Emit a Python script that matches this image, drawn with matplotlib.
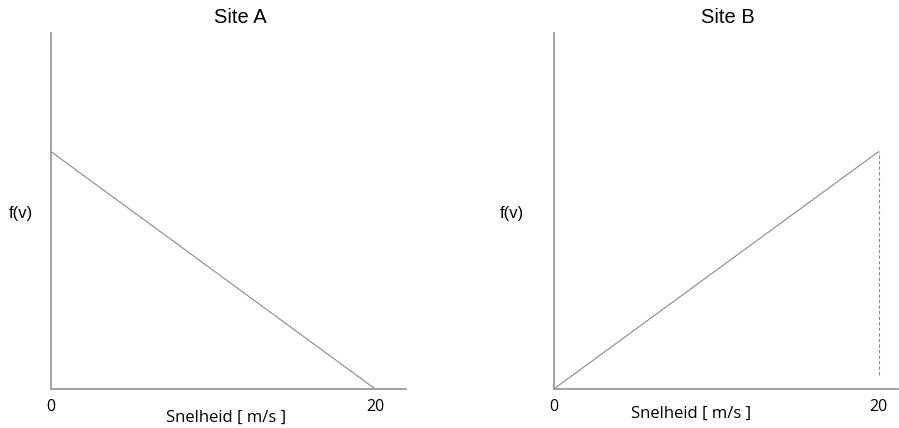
import numpy as np
import matplotlib.pyplot as plt

# speed range [m/s] and triangular pdf values
speed = [0, 20]
f_site_a = [0.1, 0.0]
f_site_b = [0.0, 0.1]
cutoff_speed = 20
cutoff_f = [0.006, 0.1]

titles = ['Site A', 'Site B']
xtick_vals = [0, 20]
xtick_labels = ['0', '20']
ylabel = 'f(v)'
xlabel = 'Snelheid [ m/s ]'

fig = plt.figure(figsize=(8.99, 4.28), dpi=100)
axA = fig.add_axes([0.0567, 0.0911, 0.395, 0.832])
axB = fig.add_axes([0.616, 0.0911, 0.383, 0.832])

spine_col = '#9a9a9a'
line_col = '#8a8a8a'

def style(ax, xmax):
    ax.set_xlim(0, xmax)
    ax.set_ylim(0, 0.15)
    for s in ['top', 'right']:
        ax.spines[s].set_visible(False)
    for s in ['left', 'bottom']:
        ax.spines[s].set_color(spine_col)
        ax.spines[s].set_linewidth(1.3)
    ax.set_yticks([])
    ax.set_xticks(xtick_vals)
    ax.set_xticklabels(xtick_labels, family='Open Sans', fontsize=11.5)
    ax.tick_params(axis='x', length=0, pad=7)

def labels(ax, title_x, ylab_x, xlab_x, xlab_y):
    ax.text(title_x, 1.042, ax.get_label(), transform=ax.transAxes,
            family='Liberation Sans', fontsize=14.5, ha='center', va='center')
    ax.text(ylab_x, 0.494, ylabel, transform=ax.transAxes,
            family='Liberation Sans', fontsize=12, ha='center', va='center')
    ax.text(xlab_x, xlab_y, xlabel, transform=ax.transAxes,
            family='Open Sans', fontsize=12, ha='center', va='center')

axA.set_label(titles[0])
axA.plot(speed, f_site_a, color=line_col, lw=0.8)
style(axA, 21.9)
labels(axA, 0.532, -0.085, 0.493, -0.081)

axB.set_label(titles[1])
axB.plot(speed, f_site_b, color=line_col, lw=0.8)
axB.plot([cutoff_speed, cutoff_speed], cutoff_f, color=line_col, lw=0.8, ls=(0, (3, 2)))
style(axB, 21.2)
labels(axB, 0.506, -0.122, 0.398, -0.070)

fig.savefig('out.png', dpi=100)
